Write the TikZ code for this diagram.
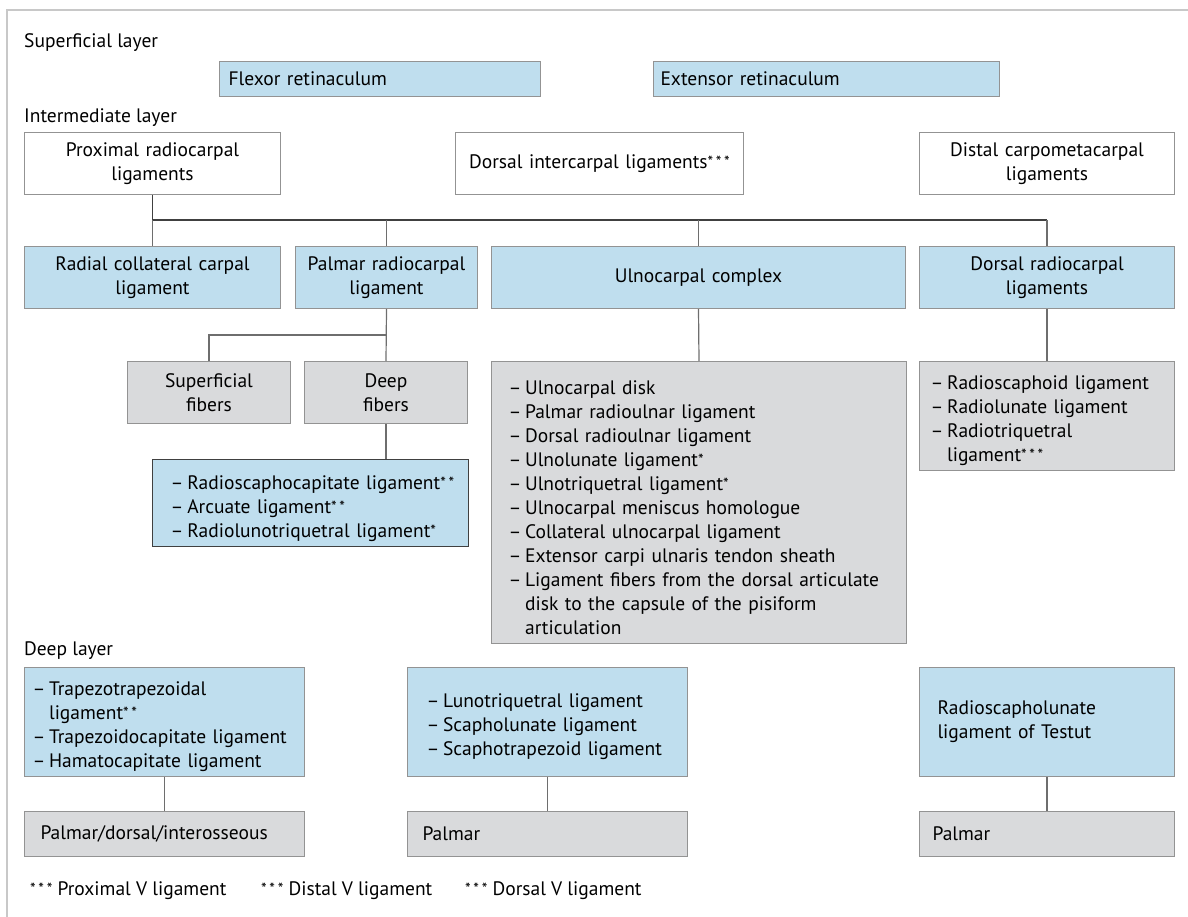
\documentclass[tikz,border=0pt]{standalone}
\usepackage{fontspec}
\setmainfont{PT Sans}
\usepackage{tikz}
\definecolor{ligblue}{HTML}{BFDEEE}
\definecolor{liggray}{HTML}{D9DADC}
\definecolor{edgegray}{HTML}{939393}
\definecolor{linkgray}{HTML}{6E6E6E}
\definecolor{framegray}{HTML}{C8C8C8}
\newcommand{\fnstar}[1]{\raisebox{1pt}{\fontsize{16}{16}\selectfont #1}}
\newcommand{\itm}[1]{\par\noindent\hangindent=0.85em\hangafter=1\makebox[0.85em][l]{–}#1\par}
\tikzset{every node/.style={font=\fontsize{19.5}{24}\selectfont},
  bluebox/.style={draw=edgegray, fill=ligblue, line width=1pt, anchor=north west, inner ysep=0pt},
  greybox/.style={draw=edgegray, fill=liggray, line width=1pt, anchor=north west, inner ysep=0pt},
  whitebox/.style={draw=edgegray, fill=white, line width=1pt, anchor=north west, inner ysep=0pt},
  layerlbl/.style={anchor=base west, inner sep=0pt},
  link/.style={draw=linkgray, line width=1.2pt},
  bus/.style={draw=black!75, line width=1.4pt}}

\begin{document}
\begin{tikzpicture}[x=1pt, y=-1pt]
  \useasboundingbox (0,0) rectangle (1188,917);
  \draw[framegray, line width=1.5pt] (7,917) -- (7,10) -- (1188,10);

  \node[layerlbl] (suplayer) at (24,48) {Superficial layer};
  \node[bluebox, minimum width=321, minimum height=35, inner xsep=9, text width=303, align=left] (flexor) at (219,61) {Flexor retinaculum};
  \node[bluebox, minimum width=346, minimum height=35, inner xsep=7, text width=332, align=left] (extensor) at (653,61) {Extensor retinaculum};

  \node[layerlbl] (intlayer) at (24,123) {Intermediate layer};
  \node[whitebox, minimum width=256, minimum height=62, inner xsep=4, text width=248, align=center] (prox) at (24,132) {Proximal radiocarpal\\ligaments};
  \node[whitebox, minimum width=288, minimum height=62, inner xsep=4, text width=280, align=center] (dorsic) at (455,132) {Dorsal intercarpal ligaments\fnstar{*\,*\,*}};
  \node[whitebox, minimum width=255, minimum height=62, inner xsep=4, text width=247, align=center] (distal) at (919,132) {Distal carpometacarpal\\ligaments};

  \node[bluebox, minimum width=256, minimum height=62, inner xsep=4, text width=248, align=center] (radcol) at (24,246) {Radial collateral carpal\\ligament};
  \node[bluebox, minimum width=182, minimum height=62, inner xsep=4, text width=174, align=center] (palmrc) at (295,246) {Palmar radiocarpal\\ligament};
  \node[bluebox, minimum width=414, minimum height=62, inner xsep=4, text width=406, align=center] (ulnocx) at (491,246) {Ulnocarpal complex};
  \node[bluebox, minimum width=255, minimum height=62, inner xsep=4, text width=247, align=center] (dorsrc) at (919,246) {Dorsal radiocarpal\\ligaments};

  \coordinate (bus) at (0,220);
  \draw[bus] (prox.south) -- (prox.south |- bus) -- (dorsrc.north |- bus);
  \foreach \n in {radcol, palmrc, ulnocx, dorsrc}
    \draw[link] (\n.north) -- (\n.north |- bus);

  \node[greybox, minimum width=163, minimum height=62, inner xsep=4, text width=155, align=center] (supfib) at (127,361) {Superficial\\fibers};
  \node[greybox, minimum width=163, minimum height=62, inner xsep=4, text width=155, align=center] (deepfib) at (304,361) {Deep\\fibers};
  \coordinate (fibjoin) at (0,335);
  \draw[link] (palmrc.south) -- (deepfib.north);
  \draw[link] (supfib.north) |- (palmrc.south |- fibjoin);

  \node[bluebox, draw=black!75, line width=1.4pt, minimum width=316, minimum height=87, inner xsep=18, text width=280, align=left] (rscbox) at (152,459)
    {\itm{\mbox{Radioscaphocapitate ligament\fnstar{*\,*}}}\itm{Arcuate ligament\fnstar{*\,*}}\itm{Radiolunotriquetral ligament\fnstar{*}}};
  \draw[link] (deepfib.south) -- (deepfib.south |- rscbox.north);

  \node[greybox, minimum width=415, minimum height=282, inner xsep=17, text width=381, align=left] (ulnlist) at (491,361)
    {\itm{Ulnocarpal disk}\itm{Palmar radioulnar ligament}\itm{Dorsal radioulnar ligament}\itm{Ulnolunate ligament\fnstar{*}}\itm{Ulnotriquetral ligament\fnstar{*}}\itm{Ulnocarpal meniscus homologue}\itm{Collateral ulnocarpal ligament}\itm{Extensor carpi ulnaris tendon sheath}\itm{Ligament fibers from the dorsal articulate\newline disk to the capsule of the pisiform\newline articulation}};
  \draw[link] (ulnocx.south) -- (ulnlist.north);

  \node[greybox, minimum width=255, minimum height=109, inner xsep=11, text width=233, align=left] (dorslist) at (919,361)
    {\itm{Radioscaphoid ligament}\itm{Radiolunate ligament}\itm{Radiotriquetral\newline ligament\fnstar{*\,*\,*}}};
  \draw[link] (dorsrc.south) -- (dorslist.north);

  \node[layerlbl] (deeplayer) at (24,655) {Deep layer};
  \node[bluebox, minimum width=280, minimum height=109, inner xsep=8, text width=264, align=left] (trapbox) at (24,667)
    {\itm{Trapezotrapezoidal\newline ligament\fnstar{*\,*}}\itm{Trapezoidocapitate ligament}\itm{Hamatocapitate ligament}};
  \node[bluebox, minimum width=280, minimum height=109, inner xsep=19, text width=242, align=left] (lunobox) at (407,667)
    {\itm{Lunotriquetral ligament}\itm{Scapholunate ligament}\itm{Scaphotrapezoid ligament}};
  \node[bluebox, minimum width=255, minimum height=109, inner xsep=18, text width=219, align=left] (testbox) at (919,667)
    {Radioscapholunate\\ligament of Testut};

  \node[greybox, minimum width=280, minimum height=45, inner xsep=16, text width=248, align=left] (pdibox) at (24,811) {Palmar/dorsal/interosseous};
  \node[greybox, minimum width=280, minimum height=45, inner xsep=15, text width=250, align=left] (palmone) at (407,811) {Palmar};
  \node[greybox, minimum width=255, minimum height=45, inner xsep=13, text width=229, align=left] (palmtwo) at (919,811) {Palmar};
  \draw[link] (trapbox.south) -- (pdibox.north);
  \draw[link] (lunobox.south) -- (palmone.north);
  \draw[link] (testbox.south) -- (palmtwo.north);

  \node[layerlbl] (fnprox) at (30,895) {\fnstar{*\,*\,*} Proximal V ligament};
  \node[layerlbl] (fndist) at (261,895) {\fnstar{*\,*\,*} Distal V ligament};
  \node[layerlbl] (fndors) at (465,895) {\fnstar{*\,*\,*} Dorsal V ligament};
\end{tikzpicture}
\end{document}
